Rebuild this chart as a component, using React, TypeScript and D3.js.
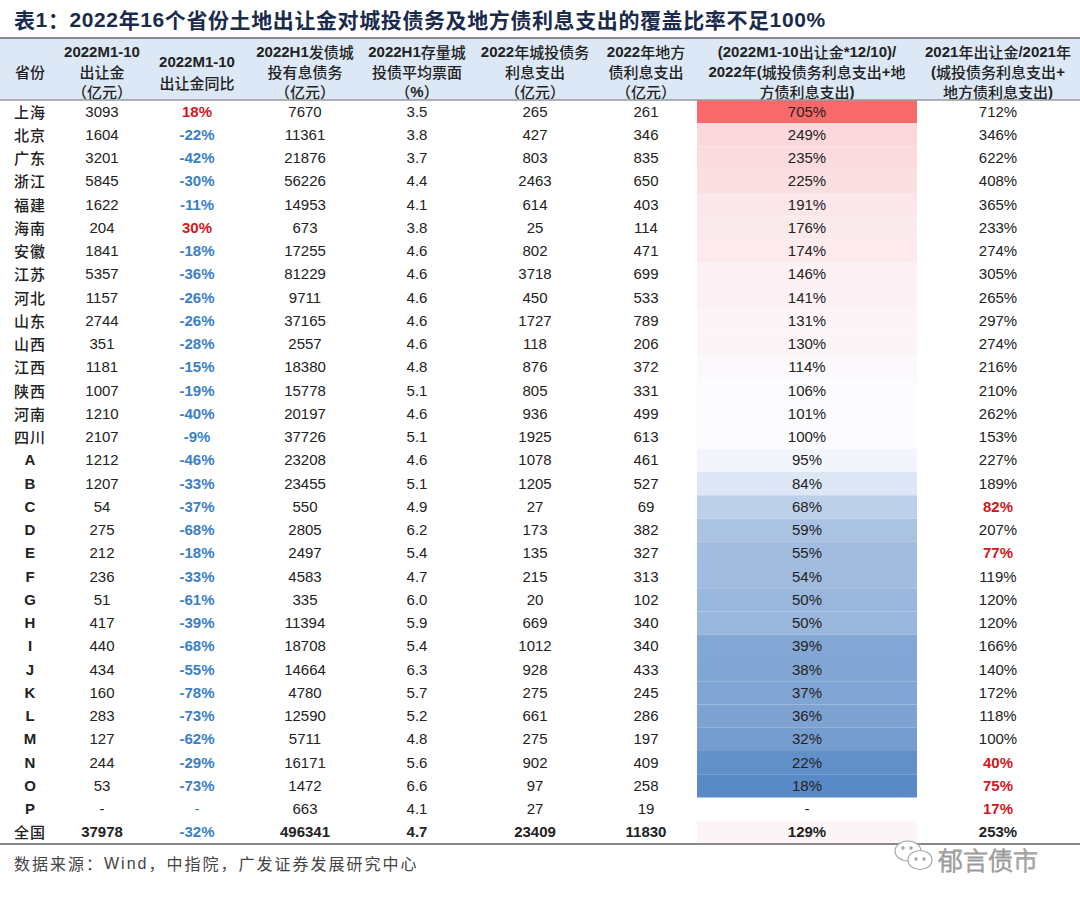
import React from "react";
import * as d3 from "d3";

const provinces = ["上海","北京","广东","浙江","福建","海南","安徽","江苏","河北","山东","山西","江西","陕西","河南","四川","A","B","C","D","E","F","G","H","I","J","K","L","M","N","O","P","全国"];
const landSale = [3093,1604,3201,5845,1622,204,1841,5357,1157,2744,351,1181,1007,1210,2107,1212,1207,54,275,212,236,51,417,440,434,160,283,127,244,53,null,37978];
const landYoY = [18,-22,-42,-30,-11,30,-18,-36,-26,-26,-28,-15,-19,-40,-9,-46,-33,-37,-68,-18,-33,-61,-39,-68,-55,-78,-73,-62,-29,-73,null,-32];
const lgfvDebt = [7670,11361,21876,56226,14953,673,17255,81229,9711,37165,2557,18380,15778,20197,37726,23208,23455,550,2805,2497,4583,335,11394,18708,14664,4780,12590,5711,16171,1472,663,496341];
const avgCoupon = [3.5,3.8,3.7,4.4,4.1,3.8,4.6,4.6,4.6,4.6,4.6,4.8,5.1,4.6,5.1,4.6,5.1,4.9,6.2,5.4,4.7,6.0,5.9,5.4,6.3,5.7,5.2,4.8,5.6,6.6,4.1,4.7];
const lgfvInterest = [265,427,803,2463,614,25,802,3718,450,1727,118,876,805,936,1925,1078,1205,27,173,135,215,20,669,1012,928,275,661,275,902,97,27,23409];
const localInterest = [261,346,835,650,403,114,471,699,533,789,206,372,331,499,613,461,527,69,382,327,313,102,340,340,433,245,286,197,409,258,19,11830];
const coverage2022 = [705,249,235,225,191,176,174,146,141,131,130,114,106,101,100,95,84,68,59,55,54,50,50,39,38,37,36,32,22,18,null,129];
const coverage2021 = [712,346,622,408,365,233,274,305,265,297,274,216,210,262,153,227,189,82,207,77,119,120,120,166,140,172,118,100,40,75,17,253];

const headers = [
  ["省份"],
  ["2022M1-10", "出让金", "（亿元）"],
  ["2022M1-10", "出让金同比"],
  ["2022H1发债城", "投有息债务", "（亿元）"],
  ["2022H1存量城", "投债平均票面", "（%）"],
  ["2022年城投债务", "利息支出", "（亿元）"],
  ["2022年地方", "债利息支出", "（亿元）"],
  ["(2022M1-10出让金*12/10)/", "2022年(城投债务利息支出+地", "方债利息支出)"],
  ["2021年出让金/2021年", "(城投债务利息支出+", "地方债利息支出)"],
];

const title = "表1：2022年16个省份土地出让金对城投债务及地方债利息支出的覆盖比率不足100%";
const source = "数据来源：Wind，中指院，广发证券发展研究中心";

const W = 1080;
const H = 901;
const colX = [30, 102, 197, 305, 417, 535, 646, 807, 998];
const headerTop = 38;
const headerBottom = 100;
const tableBottom = 844;
const cellLeft = 697;
const cellRight = 917;

const LATIN = "'Liberation Sans', Arial, sans-serif";
const CJK = "'Noto Sans CJK SC', sans-serif";
const RED = "#d3161c";
const BLUE = "#3a80c6";
const TEXT = "#222";

function splitRuns(s: string) {
  const runs: { t: string; cjk: boolean }[] = [];
  for (const ch of s) {
    const cjk = /[\u3000-\u9fff\uff00-\uffef]/.test(ch);
    const last = runs[runs.length - 1];
    if (last && last.cjk === cjk) last.t += ch;
    else runs.push({ t: ch, cjk });
  }
  return runs;
}

export default function App() {
  const idx = provinces.map((_, i) => i);
  const y = d3.scaleBand<number>().domain(idx).range([headerBottom, tableBottom]).padding(0);
  const color = d3
    .scaleLinear<string>()
    .domain([18, 100, 705])
    .range(["#5A8AC6", "#FCFCFF", "#F8696B"])
    .interpolate(d3.interpolateRgb)
    .clamp(true);

  const nf = d3.format("d");
  const pf = (v: number) => `${v}%`;
  const lastRow = provinces.length - 1;

  const cellText = (
    x: number,
    cy: number,
    txt: string,
    opts: { bold?: boolean; fill?: string; key: string }
  ) => (
    <text
      key={opts.key}
      x={x}
      y={cy}
      textAnchor="middle"
      dominantBaseline="central"
      fontFamily={LATIN}
      fontSize={15}
      fontWeight={opts.bold ? "bold" : "normal"}
      fill={opts.fill || TEXT}
    >
      {txt}
    </text>
  );

  return (
    <svg
      width={W}
      height={H}
      style={{ position: "absolute", left: 0, top: 0, background: "#fff" }}
    >
      <rect x={0} y={0} width={W} height={H} fill="#fff" />
      {/* Title */}
      <text x={14} y={19} dominantBaseline="central" fontSize={21} fontWeight="bold" fill="#1b2b4b" letterSpacing={0.6}>
        {splitRuns(title).map((r, i) => (
          <tspan key={i} fontFamily={r.cjk ? CJK : LATIN}>{r.t}</tspan>
        ))}
      </text>

      {/* Header band */}
      <rect x={0} y={headerTop} width={W} height={headerBottom - headerTop} fill="#dce8f5" />
      <line x1={0} x2={W} y1={headerTop} y2={headerTop} stroke="#8a8a8a" strokeWidth={2} />
      {headers.map((lines, c) => {
        const ys = lines.length === 1 ? [71] : lines.length === 2 ? [61, 82] : [51, 71, 91];
        return lines.map((ln, li) => (
          <text
            key={`h${c}-${li}`}
            x={colX[c]}
            y={ys[li]}
            textAnchor="middle"
            dominantBaseline="central"
            fontSize={15}
            fill={TEXT}
          >
            {splitRuns(ln).map((r, i) => (
              <tspan
                key={i}
                fontFamily={r.cjk ? CJK : LATIN}
                fontWeight={r.cjk ? 500 : "bold"}
              >
                {r.t}
              </tspan>
            ))}
          </text>
        ));
      })}

      {/* Heat cells */}
      {idx.map((i) =>
        coverage2022[i] == null ? null : (
          <rect
            key={`c${i}`}
            x={cellLeft}
            y={y(i)!}
            width={cellRight - cellLeft}
            height={y.bandwidth()}
            fill={color(coverage2022[i] as number)}
          />
        )
      )}

      {/* Rows */}
      {idx.map((i) => {
        const cy = y(i)! + y.bandwidth() / 2 - 0.5;
        const isTotal = i === lastRow;
        const name = provinces[i];
        const isLatin = /^[A-Z]$/.test(name);
        const yoy = landYoY[i];
        const c21 = coverage2021[i];
        return (
          <g key={`r${i}`}>
            <text
              x={colX[0]}
              y={cy}
              textAnchor="middle"
              dominantBaseline="central"
              fontFamily={isLatin ? LATIN : CJK}
              fontSize={15}
              fontWeight={isLatin ? "bold" : 500}
              letterSpacing={isLatin ? 0 : 1}
              fill={TEXT}
            >
              {name}
            </text>
            {cellText(colX[1], cy, landSale[i] == null ? "-" : nf(landSale[i] as number), { bold: isTotal, key: "a" })}
            {cellText(colX[2], cy, yoy == null ? "-" : pf(yoy), {
              bold: yoy != null,
              fill: yoy == null ? BLUE : yoy > 0 ? RED : BLUE,
              key: "b",
            })}
            {cellText(colX[3], cy, nf(lgfvDebt[i]), { bold: isTotal, key: "c" })}
            {cellText(colX[4], cy, avgCoupon[i].toFixed(1), { bold: isTotal, key: "d" })}
            {cellText(colX[5], cy, nf(lgfvInterest[i]), { bold: isTotal, key: "e" })}
            {cellText(colX[6], cy, nf(localInterest[i]), { bold: isTotal, key: "f" })}
            {cellText(colX[7], cy, coverage2022[i] == null ? "-" : pf(coverage2022[i] as number), { bold: isTotal, key: "g" })}
            {cellText(colX[8], cy, pf(c21), {
              bold: isTotal || c21 < 100,
              fill: c21 < 100 ? RED : TEXT,
              key: "h",
            })}
          </g>
        );
      })}

      <line x1={0} x2={W} y1={headerBottom} y2={headerBottom} stroke="#9a9a9a" strokeWidth={1.5} />
      <line x1={0} x2={W} y1={tableBottom} y2={tableBottom} stroke="#8a8a8a" strokeWidth={2} />

      {/* Source */}
      <text x={14} y={863} dominantBaseline="central" fontSize={16} fill="#444" letterSpacing={2}>
        {splitRuns(source).map((r, i) => (
          <tspan key={i} fontFamily={r.cjk ? CJK : LATIN}>{r.t}</tspan>
        ))}
      </text>

      {/* Watermark */}
      <g stroke="#a8a8a8" fill="#fff" strokeWidth={1.2}>
        <ellipse cx={908} cy={851} rx={13} ry={10} />
        <ellipse cx={920} cy={860} rx={12} ry={9.5} />
        <circle cx={916} cy={859} r={1.2} fill="#a8a8a8" />
        <circle cx={924} cy={859} r={1.2} fill="#a8a8a8" />
        <circle cx={903} cy={848} r={1.2} fill="#a8a8a8" />
        <circle cx={911} cy={848} r={1.2} fill="#a8a8a8" />
      </g>
      <text
        x={938}
        y={859}
        dominantBaseline="central"
        fontFamily={CJK}
        fontSize={25}
        fontWeight={300}
        fill="#fff"
        stroke="#9a9a9a"
        strokeWidth={1}
      >
        郁言债市
      </text>
    </svg>
  );
}
